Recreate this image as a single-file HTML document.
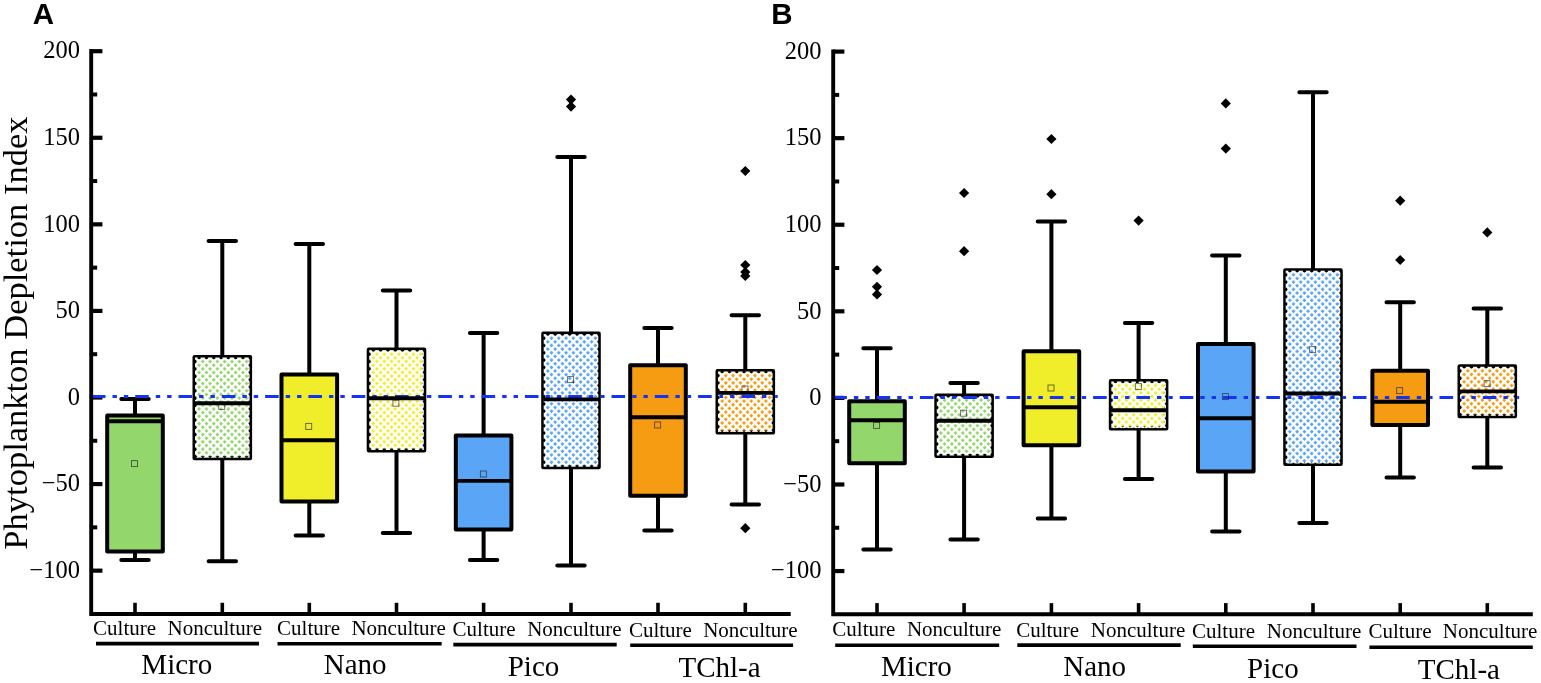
<!DOCTYPE html>
<html lang="en"><head><meta charset="utf-8"><title>Phytoplankton Depletion Index</title>
<style>
html,body{margin:0;padding:0;background:#fff;}
body{width:1541px;height:683px;overflow:hidden;}
svg{display:block;}
svg text{font-family:"Liberation Serif",serif;fill:#000;}
svg text.pl{font-family:"Liberation Sans",sans-serif;font-weight:bold;}
</style></head><body>
<svg width="1541" height="683" viewBox="0 0 1541 683">
<rect x="0" y="0" width="1541" height="683" fill="#fff"/>
<text class="pl" x="32.8" y="24" font-size="29.5">A</text>
<text class="pl" x="771.2" y="24.1" font-size="29.5">B</text>
<text transform="translate(27.3,333.1) rotate(-90)" text-anchor="middle" font-size="34.5">Phytoplankton Depletion Index</text>
<g class="axes">
<line x1="91.2" y1="51.2" x2="102.4" y2="51.2" stroke="#000" stroke-width="4.2"/>
<text x="80" y="58.4" text-anchor="end" font-size="24.5">200</text>
<line x1="91.2" y1="137.77" x2="102.4" y2="137.77" stroke="#000" stroke-width="4.2"/>
<text x="80" y="144.97" text-anchor="end" font-size="24.5">150</text>
<line x1="91.2" y1="224.35" x2="102.4" y2="224.35" stroke="#000" stroke-width="4.2"/>
<text x="80" y="231.55" text-anchor="end" font-size="24.5">100</text>
<line x1="91.2" y1="310.93" x2="102.4" y2="310.93" stroke="#000" stroke-width="4.2"/>
<text x="80" y="318.12" text-anchor="end" font-size="24.5">50</text>
<line x1="91.2" y1="397.5" x2="102.4" y2="397.5" stroke="#000" stroke-width="4.2"/>
<text x="80" y="404.7" text-anchor="end" font-size="24.5">0</text>
<line x1="91.2" y1="484.07" x2="102.4" y2="484.07" stroke="#000" stroke-width="4.2"/>
<text x="80" y="491.27" text-anchor="end" font-size="24.5">−50</text>
<line x1="91.2" y1="570.65" x2="102.4" y2="570.65" stroke="#000" stroke-width="4.2"/>
<text x="80" y="577.85" text-anchor="end" font-size="24.5">−100</text>
<line x1="91.2" y1="94.49" x2="97.2" y2="94.49" stroke="#000" stroke-width="4"/>
<line x1="91.2" y1="181.06" x2="97.2" y2="181.06" stroke="#000" stroke-width="4"/>
<line x1="91.2" y1="267.64" x2="97.2" y2="267.64" stroke="#000" stroke-width="4"/>
<line x1="91.2" y1="354.21" x2="97.2" y2="354.21" stroke="#000" stroke-width="4"/>
<line x1="91.2" y1="440.79" x2="97.2" y2="440.79" stroke="#000" stroke-width="4"/>
<line x1="91.2" y1="527.36" x2="97.2" y2="527.36" stroke="#000" stroke-width="4"/>
<line x1="135" y1="614" x2="135" y2="602.8" stroke="#000" stroke-width="3.6"/>
<line x1="222.3" y1="614" x2="222.3" y2="602.8" stroke="#000" stroke-width="3.6"/>
<line x1="309.3" y1="614" x2="309.3" y2="602.8" stroke="#000" stroke-width="3.6"/>
<line x1="396.5" y1="614" x2="396.5" y2="602.8" stroke="#000" stroke-width="3.6"/>
<line x1="483.6" y1="614" x2="483.6" y2="602.8" stroke="#000" stroke-width="3.6"/>
<line x1="571" y1="614" x2="571" y2="602.8" stroke="#000" stroke-width="3.6"/>
<line x1="658" y1="614" x2="658" y2="602.8" stroke="#000" stroke-width="3.6"/>
<line x1="745.3" y1="614" x2="745.3" y2="602.8" stroke="#000" stroke-width="3.6"/>
</g>
<g>
<path d="M135,399 V415.6 M135,551.6 V560" stroke="#000" stroke-width="4.0" fill="none"/>
<path d="M121.3,399 H148.7 M121.3,560 H148.7" stroke="#000" stroke-width="4.0" stroke-linecap="round" fill="none"/>
<rect x="107.2" y="415.6" width="55.6" height="136" fill="#93d66c" stroke="#000" stroke-width="4.0" stroke-linejoin="round"/>
</g>
<g>
<path d="M222.3,241 V357 M222.3,458.2 V561.2" stroke="#000" stroke-width="4.0" fill="none"/>
<path d="M208.6,241 H236 M208.6,561.2 H236" stroke="#000" stroke-width="4.0" stroke-linecap="round" fill="none"/>
<rect x="194.5" y="357" width="55.6" height="101.2" fill="#93d66c" stroke="#000" stroke-width="4.0" stroke-linejoin="round"/>
<pattern id="h01" patternUnits="userSpaceOnUse" width="5.16" height="5.16" patternTransform="translate(202.8,356.23) rotate(45)"><path d="M0,0H5.16V2.3H2.3V5.16H0Z" fill="#fff"/></pattern>
<rect x="195" y="357.5" width="54.6" height="100.2" fill="url(#h01)"/>
</g>
<g>
<path d="M309.3,244 V374.4 M309.3,501.5 V535.6" stroke="#000" stroke-width="4.0" fill="none"/>
<path d="M295.6,244 H323 M295.6,535.6 H323" stroke="#000" stroke-width="4.0" stroke-linecap="round" fill="none"/>
<rect x="281.5" y="374.4" width="55.6" height="127.1" fill="#f0ee2b" stroke="#000" stroke-width="4.0" stroke-linejoin="round"/>
</g>
<g>
<path d="M396.5,290.6 V349.6 M396.5,450.5 V533" stroke="#000" stroke-width="4.0" fill="none"/>
<path d="M382.8,290.6 H410.2 M382.8,533 H410.2" stroke="#000" stroke-width="4.0" stroke-linecap="round" fill="none"/>
<rect x="368.7" y="349.6" width="55.6" height="100.9" fill="#f0ee2b" stroke="#000" stroke-width="4.0" stroke-linejoin="round"/>
<pattern id="h03" patternUnits="userSpaceOnUse" width="5.16" height="5.16" patternTransform="translate(377,348.83) rotate(45)"><path d="M0,0H5.16V2.3H2.3V5.16H0Z" fill="#fff"/></pattern>
<rect x="369.2" y="350.1" width="54.6" height="99.9" fill="url(#h03)"/>
</g>
<g>
<path d="M483.6,333 V435.6 M483.6,529.6 V560" stroke="#000" stroke-width="4.0" fill="none"/>
<path d="M469.9,333 H497.3 M469.9,560 H497.3" stroke="#000" stroke-width="4.0" stroke-linecap="round" fill="none"/>
<rect x="455.8" y="435.6" width="55.6" height="94" fill="#5ba5f6" stroke="#000" stroke-width="4.0" stroke-linejoin="round"/>
</g>
<g>
<path d="M571,157 V333.6 M571,467.2 V565.4" stroke="#000" stroke-width="4.0" fill="none"/>
<path d="M557.3,157 H584.7 M557.3,565.4 H584.7" stroke="#000" stroke-width="4.0" stroke-linecap="round" fill="none"/>
<rect x="543.2" y="333.6" width="55.6" height="133.6" fill="#5ba5f6" stroke="#000" stroke-width="4.0" stroke-linejoin="round"/>
<pattern id="h05" patternUnits="userSpaceOnUse" width="5.16" height="5.16" patternTransform="translate(551.5,332.83) rotate(45)"><path d="M0,0H5.16V2.3H2.3V5.16H0Z" fill="#fff"/></pattern>
<rect x="543.7" y="334.1" width="54.6" height="132.6" fill="url(#h05)"/>
</g>
<g>
<path d="M658,328 V365.3 M658,495.7 V530.6" stroke="#000" stroke-width="4.0" fill="none"/>
<path d="M644.3,328 H671.7 M644.3,530.6 H671.7" stroke="#000" stroke-width="4.0" stroke-linecap="round" fill="none"/>
<rect x="630.2" y="365.3" width="55.6" height="130.4" fill="#f59c13" stroke="#000" stroke-width="4.0" stroke-linejoin="round"/>
</g>
<g>
<path d="M745.3,315.3 V371 M745.3,432.4 V504.6" stroke="#000" stroke-width="4.0" fill="none"/>
<path d="M731.6,315.3 H759 M731.6,504.6 H759" stroke="#000" stroke-width="4.0" stroke-linecap="round" fill="none"/>
<rect x="717.5" y="371" width="55.6" height="61.4" fill="#f59c13" stroke="#000" stroke-width="4.0" stroke-linejoin="round"/>
<pattern id="h07" patternUnits="userSpaceOnUse" width="5.16" height="5.16" patternTransform="translate(725.8,370.23) rotate(45)"><path d="M0,0H5.16V2.3H2.3V5.16H0Z" fill="#fff"/></pattern>
<rect x="718" y="371.5" width="54.6" height="60.4" fill="url(#h07)"/>
</g>
<clipPath id="bc0"><path clip-rule="evenodd" d="M0,0H1541V683H0Z M192.5,392.5H196.5V400.5H192.5Z M248.1,392.5H252.1V400.5H248.1Z M279.5,392.5H283.5V400.5H279.5Z M335.1,392.5H339.1V400.5H335.1Z M366.7,392.5H370.7V400.5H366.7Z M422.3,392.5H426.3V400.5H422.3Z M541.2,392.5H545.2V400.5H541.2Z M596.8,392.5H600.8V400.5H596.8Z M628.2,392.5H632.2V400.5H628.2Z M683.8,392.5H687.8V400.5H683.8Z M715.5,392.5H719.5V400.5H715.5Z M771.1,392.5H775.1V400.5H771.1Z"/></clipPath>
<line clip-path="url(#bc0)" x1="91.9" y1="396.5" x2="778" y2="396.5" stroke="#1533f5" stroke-width="3" stroke-dasharray="13.6 7 4.4 6.95 4.4 6.95"/>
<g>
<rect x="131.5" y="460.6" width="6" height="6" fill="none" stroke="#222" stroke-opacity="0.7" stroke-width="0.9"/>
<line x1="107.2" y1="421.3" x2="162.8" y2="421.3" stroke="#000" stroke-width="3.9"/>
</g>
<g>
<rect x="218.7" y="403.4" width="6" height="6" fill="none" stroke="#222" stroke-opacity="0.7" stroke-width="0.9"/>
<line x1="194.5" y1="403.2" x2="250.1" y2="403.2" stroke="#000" stroke-width="3.9"/>
</g>
<g>
<rect x="305.7" y="423.4" width="6" height="6" fill="none" stroke="#222" stroke-opacity="0.7" stroke-width="0.9"/>
<line x1="281.5" y1="440.3" x2="337.1" y2="440.3" stroke="#000" stroke-width="3.9"/>
</g>
<g>
<rect x="392.9" y="400.2" width="6" height="6" fill="none" stroke="#222" stroke-opacity="0.7" stroke-width="0.9"/>
<line x1="368.7" y1="398.3" x2="424.3" y2="398.3" stroke="#000" stroke-width="3.9"/>
</g>
<g>
<rect x="480.4" y="471" width="6" height="6" fill="none" stroke="#222" stroke-opacity="0.7" stroke-width="0.9"/>
<line x1="455.8" y1="480.9" x2="511.4" y2="480.9" stroke="#000" stroke-width="3.9"/>
</g>
<g>
<rect x="567.6" y="376.6" width="6" height="6" fill="none" stroke="#222" stroke-opacity="0.7" stroke-width="0.9"/>
<line x1="543.2" y1="399.4" x2="598.8" y2="399.4" stroke="#000" stroke-width="3.9"/>
<path d="M571,94.5 L576.1,99.6 L571,104.7 L565.9,99.6 Z" fill="#000"/>
<path d="M571,101.5 L576.1,106.6 L571,111.7 L565.9,106.6 Z" fill="#000"/>
</g>
<g>
<rect x="654.6" y="422" width="6" height="6" fill="none" stroke="#222" stroke-opacity="0.7" stroke-width="0.9"/>
<line x1="630.2" y1="417.3" x2="685.8" y2="417.3" stroke="#000" stroke-width="3.9"/>
</g>
<g>
<rect x="742" y="386" width="6" height="6" fill="none" stroke="#222" stroke-opacity="0.7" stroke-width="0.9"/>
<line x1="717.5" y1="392.9" x2="773.1" y2="392.9" stroke="#000" stroke-width="3.9"/>
<path d="M745.3,165.9 L750.4,171 L745.3,176.1 L740.2,171 Z" fill="#000"/>
<path d="M745.3,259.9 L750.4,265 L745.3,270.1 L740.2,265 Z" fill="#000"/>
<path d="M745.3,266.9 L750.4,272 L745.3,277.1 L740.2,272 Z" fill="#000"/>
<path d="M745.3,270.9 L750.4,276 L745.3,281.1 L740.2,276 Z" fill="#000"/>
<path d="M745.3,523.1 L750.4,528.2 L745.3,533.3 L740.2,528.2 Z" fill="#000"/>
</g>
<path d="M91.2,49.1 V614 H790.7" fill="none" stroke="#000" stroke-width="3.9" stroke-linejoin="miter"/>
<text x="124.6" y="634.5" text-anchor="middle" font-size="21">Culture</text>
<text x="214.8" y="634.5" text-anchor="middle" font-size="21">Nonculture</text>
<text x="308.6" y="635.2" text-anchor="middle" font-size="21">Culture</text>
<text x="398.7" y="635.2" text-anchor="middle" font-size="21">Nonculture</text>
<text x="484.1" y="635.9" text-anchor="middle" font-size="21">Culture</text>
<text x="574.4" y="635.9" text-anchor="middle" font-size="21">Nonculture</text>
<text x="660.4" y="636.7" text-anchor="middle" font-size="21">Culture</text>
<text x="750.4" y="636.7" text-anchor="middle" font-size="21">Nonculture</text>
<line x1="96" y1="643.6" x2="259" y2="643.6" stroke="#000" stroke-width="3.6"/>
<text x="176.8" y="674.4" text-anchor="middle" font-size="29">Micro</text>
<line x1="277.5" y1="643.8" x2="441.7" y2="643.8" stroke="#000" stroke-width="3.6"/>
<text x="355.2" y="674.3" text-anchor="middle" font-size="29">Nano</text>
<line x1="453.3" y1="644.6" x2="616.7" y2="644.6" stroke="#000" stroke-width="3.6"/>
<text x="533.5" y="675.5" text-anchor="middle" font-size="29">Pico</text>
<line x1="630.2" y1="645.3" x2="793.1" y2="645.3" stroke="#000" stroke-width="3.6"/>
<text x="719.5" y="676.5" text-anchor="middle" font-size="29">TChl-a</text>
<g class="axes">
<line x1="833.2" y1="51.6" x2="844.4" y2="51.6" stroke="#000" stroke-width="4.2"/>
<text x="821.5" y="58.8" text-anchor="end" font-size="24.5">200</text>
<line x1="833.2" y1="138.17" x2="844.4" y2="138.17" stroke="#000" stroke-width="4.2"/>
<text x="821.5" y="145.37" text-anchor="end" font-size="24.5">150</text>
<line x1="833.2" y1="224.75" x2="844.4" y2="224.75" stroke="#000" stroke-width="4.2"/>
<text x="821.5" y="231.95" text-anchor="end" font-size="24.5">100</text>
<line x1="833.2" y1="311.32" x2="844.4" y2="311.32" stroke="#000" stroke-width="4.2"/>
<text x="821.5" y="318.52" text-anchor="end" font-size="24.5">50</text>
<line x1="833.2" y1="397.9" x2="844.4" y2="397.9" stroke="#000" stroke-width="4.2"/>
<text x="821.5" y="405.1" text-anchor="end" font-size="24.5">0</text>
<line x1="833.2" y1="484.47" x2="844.4" y2="484.47" stroke="#000" stroke-width="4.2"/>
<text x="821.5" y="491.67" text-anchor="end" font-size="24.5">−50</text>
<line x1="833.2" y1="571.05" x2="844.4" y2="571.05" stroke="#000" stroke-width="4.2"/>
<text x="821.5" y="578.25" text-anchor="end" font-size="24.5">−100</text>
<line x1="833.2" y1="94.89" x2="839.2" y2="94.89" stroke="#000" stroke-width="4"/>
<line x1="833.2" y1="181.46" x2="839.2" y2="181.46" stroke="#000" stroke-width="4"/>
<line x1="833.2" y1="268.04" x2="839.2" y2="268.04" stroke="#000" stroke-width="4"/>
<line x1="833.2" y1="354.61" x2="839.2" y2="354.61" stroke="#000" stroke-width="4"/>
<line x1="833.2" y1="441.19" x2="839.2" y2="441.19" stroke="#000" stroke-width="4"/>
<line x1="833.2" y1="527.76" x2="839.2" y2="527.76" stroke="#000" stroke-width="4"/>
<line x1="877" y1="614.3" x2="877" y2="603.1" stroke="#000" stroke-width="3.6"/>
<line x1="964.1" y1="614.3" x2="964.1" y2="603.1" stroke="#000" stroke-width="3.6"/>
<line x1="1051.4" y1="614.3" x2="1051.4" y2="603.1" stroke="#000" stroke-width="3.6"/>
<line x1="1138.6" y1="614.3" x2="1138.6" y2="603.1" stroke="#000" stroke-width="3.6"/>
<line x1="1225.8" y1="614.3" x2="1225.8" y2="603.1" stroke="#000" stroke-width="3.6"/>
<line x1="1313" y1="614.3" x2="1313" y2="603.1" stroke="#000" stroke-width="3.6"/>
<line x1="1400.2" y1="614.3" x2="1400.2" y2="603.1" stroke="#000" stroke-width="3.6"/>
<line x1="1487.3" y1="614.3" x2="1487.3" y2="603.1" stroke="#000" stroke-width="3.6"/>
</g>
<g>
<path d="M877,348.3 V401.2 M877,463.2 V549.4" stroke="#000" stroke-width="4.0" fill="none"/>
<path d="M863.3,348.3 H890.7 M863.3,549.4 H890.7" stroke="#000" stroke-width="4.0" stroke-linecap="round" fill="none"/>
<rect x="849.2" y="401.2" width="55.6" height="62" fill="#93d66c" stroke="#000" stroke-width="4.0" stroke-linejoin="round"/>
</g>
<g>
<path d="M964.1,383 V395.6 M964.1,456 V539.6" stroke="#000" stroke-width="4.0" fill="none"/>
<path d="M950.4,383 H977.8 M950.4,539.6 H977.8" stroke="#000" stroke-width="4.0" stroke-linecap="round" fill="none"/>
<rect x="936.3" y="395.6" width="55.6" height="60.4" fill="#93d66c" stroke="#000" stroke-width="4.0" stroke-linejoin="round"/>
<pattern id="h11" patternUnits="userSpaceOnUse" width="5.16" height="5.16" patternTransform="translate(944.6,394.83) rotate(45)"><path d="M0,0H5.16V2.3H2.3V5.16H0Z" fill="#fff"/></pattern>
<rect x="936.8" y="396.1" width="54.6" height="59.4" fill="url(#h11)"/>
</g>
<g>
<path d="M1051.4,221.6 V351.2 M1051.4,445.3 V518.4" stroke="#000" stroke-width="4.0" fill="none"/>
<path d="M1037.7,221.6 H1065.1 M1037.7,518.4 H1065.1" stroke="#000" stroke-width="4.0" stroke-linecap="round" fill="none"/>
<rect x="1023.6" y="351.2" width="55.6" height="94.1" fill="#f0ee2b" stroke="#000" stroke-width="4.0" stroke-linejoin="round"/>
</g>
<g>
<path d="M1138.6,323.1 V381 M1138.6,428.6 V479" stroke="#000" stroke-width="4.0" fill="none"/>
<path d="M1124.9,323.1 H1152.3 M1124.9,479 H1152.3" stroke="#000" stroke-width="4.0" stroke-linecap="round" fill="none"/>
<rect x="1110.8" y="381" width="55.6" height="47.6" fill="#f0ee2b" stroke="#000" stroke-width="4.0" stroke-linejoin="round"/>
<pattern id="h13" patternUnits="userSpaceOnUse" width="5.16" height="5.16" patternTransform="translate(1119.1,380.23) rotate(45)"><path d="M0,0H5.16V2.3H2.3V5.16H0Z" fill="#fff"/></pattern>
<rect x="1111.3" y="381.5" width="54.6" height="46.6" fill="url(#h13)"/>
</g>
<g>
<path d="M1225.8,255.6 V344 M1225.8,471.6 V531.6" stroke="#000" stroke-width="4.0" fill="none"/>
<path d="M1212.1,255.6 H1239.5 M1212.1,531.6 H1239.5" stroke="#000" stroke-width="4.0" stroke-linecap="round" fill="none"/>
<rect x="1198" y="344" width="55.6" height="127.6" fill="#5ba5f6" stroke="#000" stroke-width="4.0" stroke-linejoin="round"/>
</g>
<g>
<path d="M1313,92.2 V270.2 M1313,464 V523" stroke="#000" stroke-width="4.0" fill="none"/>
<path d="M1299.3,92.2 H1326.7 M1299.3,523 H1326.7" stroke="#000" stroke-width="4.0" stroke-linecap="round" fill="none"/>
<rect x="1285.2" y="270.2" width="55.6" height="193.8" fill="#5ba5f6" stroke="#000" stroke-width="4.0" stroke-linejoin="round"/>
<pattern id="h15" patternUnits="userSpaceOnUse" width="5.16" height="5.16" patternTransform="translate(1293.5,269.43) rotate(45)"><path d="M0,0H5.16V2.3H2.3V5.16H0Z" fill="#fff"/></pattern>
<rect x="1285.7" y="270.7" width="54.6" height="192.8" fill="url(#h15)"/>
</g>
<g>
<path d="M1400.2,302.2 V370.8 M1400.2,425 V477.6" stroke="#000" stroke-width="4.0" fill="none"/>
<path d="M1386.5,302.2 H1413.9 M1386.5,477.6 H1413.9" stroke="#000" stroke-width="4.0" stroke-linecap="round" fill="none"/>
<rect x="1372.4" y="370.8" width="55.6" height="54.2" fill="#f59c13" stroke="#000" stroke-width="4.0" stroke-linejoin="round"/>
</g>
<g>
<path d="M1487.3,308.6 V366.3 M1487.3,416.3 V467.6" stroke="#000" stroke-width="4.0" fill="none"/>
<path d="M1473.6,308.6 H1501 M1473.6,467.6 H1501" stroke="#000" stroke-width="4.0" stroke-linecap="round" fill="none"/>
<rect x="1459.5" y="366.3" width="55.6" height="50" fill="#f59c13" stroke="#000" stroke-width="4.0" stroke-linejoin="round"/>
<pattern id="h17" patternUnits="userSpaceOnUse" width="5.16" height="5.16" patternTransform="translate(1467.8,365.53) rotate(45)"><path d="M0,0H5.16V2.3H2.3V5.16H0Z" fill="#fff"/></pattern>
<rect x="1460" y="366.8" width="54.6" height="49" fill="url(#h17)"/>
</g>
<clipPath id="bc1"><path clip-rule="evenodd" d="M0,0H1541V683H0Z M934.3,393.4H938.3V401.4H934.3Z M989.9,393.4H993.9V401.4H989.9Z M1021.6,393.4H1025.6V401.4H1021.6Z M1077.2,393.4H1081.2V401.4H1077.2Z M1108.8,393.4H1112.8V401.4H1108.8Z M1164.4,393.4H1168.4V401.4H1164.4Z M1196,393.4H1200V401.4H1196Z M1251.6,393.4H1255.6V401.4H1251.6Z M1283.2,393.4H1287.2V401.4H1283.2Z M1338.8,393.4H1342.8V401.4H1338.8Z M1370.4,393.4H1374.4V401.4H1370.4Z M1426,393.4H1430V401.4H1426Z M1457.5,393.4H1461.5V401.4H1457.5Z M1513.1,393.4H1517.1V401.4H1513.1Z"/></clipPath>
<line clip-path="url(#bc1)" x1="833.3" y1="397.4" x2="1519.2" y2="397.4" stroke="#1533f5" stroke-width="3" stroke-dasharray="13.6 7 4.4 6.95 4.4 6.95"/>
<g>
<rect x="873.6" y="422.4" width="6" height="6" fill="none" stroke="#222" stroke-opacity="0.7" stroke-width="0.9"/>
<line x1="849.2" y1="420.3" x2="904.8" y2="420.3" stroke="#000" stroke-width="3.9"/>
<path d="M877,264.9 L882.1,270 L877,275.1 L871.9,270 Z" fill="#000"/>
<path d="M877,281.7 L882.1,286.8 L877,291.9 L871.9,286.8 Z" fill="#000"/>
<path d="M877,289.3 L882.1,294.4 L877,299.5 L871.9,294.4 Z" fill="#000"/>
</g>
<g>
<rect x="960.6" y="410.2" width="6" height="6" fill="none" stroke="#222" stroke-opacity="0.7" stroke-width="0.9"/>
<line x1="936.3" y1="420.7" x2="991.9" y2="420.7" stroke="#000" stroke-width="3.9"/>
<path d="M964.1,187.9 L969.2,193 L964.1,198.1 L959,193 Z" fill="#000"/>
<path d="M964.1,246.1 L969.2,251.2 L964.1,256.3 L959,251.2 Z" fill="#000"/>
</g>
<g>
<rect x="1048" y="385" width="6" height="6" fill="none" stroke="#222" stroke-opacity="0.7" stroke-width="0.9"/>
<line x1="1023.6" y1="407.3" x2="1079.2" y2="407.3" stroke="#000" stroke-width="3.9"/>
<path d="M1051.4,133.9 L1056.5,139 L1051.4,144.1 L1046.3,139 Z" fill="#000"/>
<path d="M1051.4,189.1 L1056.5,194.2 L1051.4,199.3 L1046.3,194.2 Z" fill="#000"/>
</g>
<g>
<rect x="1135.4" y="383.6" width="6" height="6" fill="none" stroke="#222" stroke-opacity="0.7" stroke-width="0.9"/>
<line x1="1110.8" y1="410.3" x2="1166.4" y2="410.3" stroke="#000" stroke-width="3.9"/>
<path d="M1138.6,215.5 L1143.7,220.6 L1138.6,225.7 L1133.5,220.6 Z" fill="#000"/>
</g>
<g>
<rect x="1222.4" y="393.6" width="6" height="6" fill="none" stroke="#222" stroke-opacity="0.7" stroke-width="0.9"/>
<line x1="1198" y1="418.3" x2="1253.6" y2="418.3" stroke="#000" stroke-width="3.9"/>
<path d="M1225.8,98.3 L1230.9,103.4 L1225.8,108.5 L1220.7,103.4 Z" fill="#000"/>
<path d="M1225.8,143.5 L1230.9,148.6 L1225.8,153.7 L1220.7,148.6 Z" fill="#000"/>
</g>
<g>
<rect x="1309.6" y="346.6" width="6" height="6" fill="none" stroke="#222" stroke-opacity="0.7" stroke-width="0.9"/>
<line x1="1285.2" y1="393.5" x2="1340.8" y2="393.5" stroke="#000" stroke-width="3.9"/>
</g>
<g>
<rect x="1396.6" y="387.6" width="6" height="6" fill="none" stroke="#222" stroke-opacity="0.7" stroke-width="0.9"/>
<line x1="1372.4" y1="401.7" x2="1428" y2="401.7" stroke="#000" stroke-width="3.9"/>
<path d="M1400.2,195.6 L1405.3,200.7 L1400.2,205.8 L1395.1,200.7 Z" fill="#000"/>
<path d="M1400.2,254.9 L1405.3,260 L1400.2,265.1 L1395.1,260 Z" fill="#000"/>
</g>
<g>
<rect x="1484.1" y="380.6" width="6" height="6" fill="none" stroke="#222" stroke-opacity="0.7" stroke-width="0.9"/>
<line x1="1459.5" y1="391.4" x2="1515.1" y2="391.4" stroke="#000" stroke-width="3.9"/>
<path d="M1487.3,227.3 L1492.4,232.4 L1487.3,237.5 L1482.2,232.4 Z" fill="#000"/>
</g>
<path d="M833.2,49.5 V614.3 H1532.8" fill="none" stroke="#000" stroke-width="3.9" stroke-linejoin="miter"/>
<text x="863.8" y="635.9" text-anchor="middle" font-size="21">Culture</text>
<text x="954.2" y="635.9" text-anchor="middle" font-size="21">Nonculture</text>
<text x="1047.7" y="636.7" text-anchor="middle" font-size="21">Culture</text>
<text x="1138" y="636.7" text-anchor="middle" font-size="21">Nonculture</text>
<text x="1223.5" y="637.7" text-anchor="middle" font-size="21">Culture</text>
<text x="1314" y="637.7" text-anchor="middle" font-size="21">Nonculture</text>
<text x="1400" y="638.3" text-anchor="middle" font-size="21">Culture</text>
<text x="1490.1" y="638.3" text-anchor="middle" font-size="21">Nonculture</text>
<line x1="835.2" y1="645.3" x2="999.2" y2="645.3" stroke="#000" stroke-width="3.6"/>
<text x="916.4" y="675.5" text-anchor="middle" font-size="29">Micro</text>
<line x1="1017.3" y1="645.1" x2="1180.7" y2="645.1" stroke="#000" stroke-width="3.6"/>
<text x="1094.7" y="675.7" text-anchor="middle" font-size="29">Nano</text>
<line x1="1192.8" y1="646.3" x2="1356.5" y2="646.3" stroke="#000" stroke-width="3.6"/>
<text x="1272.9" y="677.7" text-anchor="middle" font-size="29">Pico</text>
<line x1="1369.4" y1="647.3" x2="1532.8" y2="647.3" stroke="#000" stroke-width="3.6"/>
<text x="1458.9" y="678.5" text-anchor="middle" font-size="29">TChl-a</text>
</svg>
</body></html>
